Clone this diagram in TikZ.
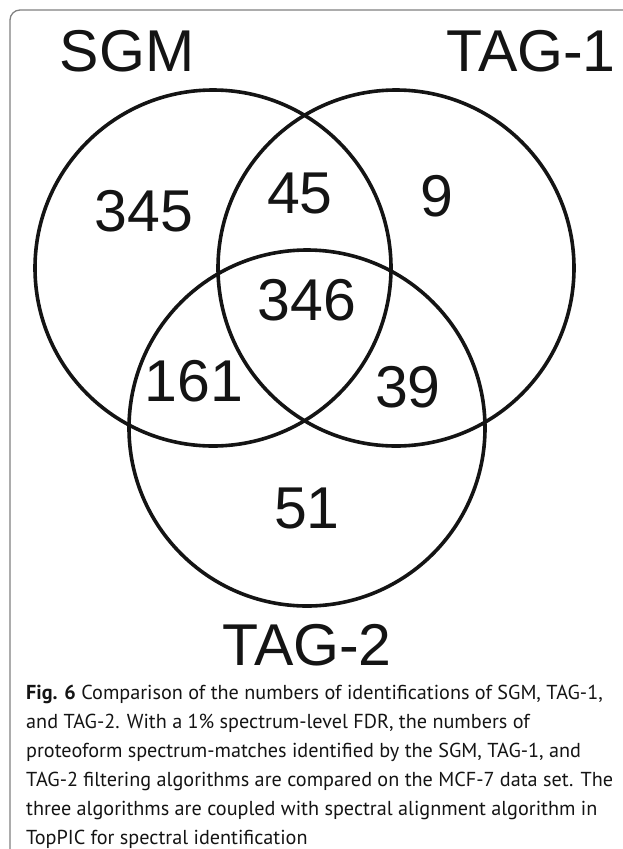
\documentclass[tikz,border=0pt]{standalone}
\usepackage{fontspec}
\setsansfont{Liberation Sans}
\newfontfamily\capfont{PT Sans}
\definecolor{bordergray}{RGB}{128,128,128}
\definecolor{inkblack}{RGB}{20,20,20}
\tikzset{
  venn/.style={draw=inkblack, line width=3.6pt},
  biglabel/.style={font=\sffamily\fontsize{59}{59}\selectfont, text=inkblack, inner sep=0pt},
  num/.style={font=\sffamily\fontsize{59}{59}\selectfont, text=inkblack, inner sep=0pt},
  capline/.style={font=\capfont\fontsize{20.2}{20.2}\selectfont, text=inkblack, inner sep=0pt, anchor=base west}
}
\begin{document}
\begin{tikzpicture}[x=1pt, y=-1pt]
\useasboundingbox (0,0) rectangle (623,849);
\begin{scope}
\clip (0,0) rectangle (623,849);
\draw[bordergray, line width=1.3pt, rounded corners=10pt] (10,870) -- (10,10) -- (650,10);
\end{scope}
% circles
\node[venn, circle, minimum size=356pt, inner sep=0pt] (sgm) at (213,268) {};
\node[venn, circle, minimum size=356pt, inner sep=0pt] (tag1) at (396,268) {};
\node[venn, circle, minimum size=356pt, inner sep=0pt] (tag2) at (307,428) {};
% set labels
\node[biglabel] (lsgm) at (127,51) {SGM};
\node[biglabel] (ltag1) at (531,51) {TAG-1};
\node[biglabel] (ltag2) at (307,645) {TAG-2};
% region counts
\node[num] (n345) at (144,211) {345};
\node[num] (n45) at (300,193) {45};
\node[num] (n9) at (437,196) {9};
\node[num] (n346) at (307,300) {346};
\node[num] (n161) at (194,381) {161};
\node[num] (n39) at (408,387) {39};
\node[num] (n51) at (307,508) {51};
% caption
\node[capline] (c1) at (26,699) {\textbf{Fig. 6} Comparison of the numbers of identifications of SGM, TAG-1,};
\node[capline] (c2) at (26,728) {and TAG-2. With a 1\% spectrum-level FDR, the numbers of};
\node[capline] (c3) at (26,757) {proteoform spectrum-matches identified by the SGM, TAG-1, and};
\node[capline] (c4) at (26,786) {TAG-2 filtering algorithms are compared on the MCF-7 data set. The};
\node[capline] (c5) at (26,815) {three algorithms are coupled with spectral alignment algorithm in};
\node[capline] (c6) at (26,844) {TopPIC for spectral identification};
\end{tikzpicture}
\end{document}
